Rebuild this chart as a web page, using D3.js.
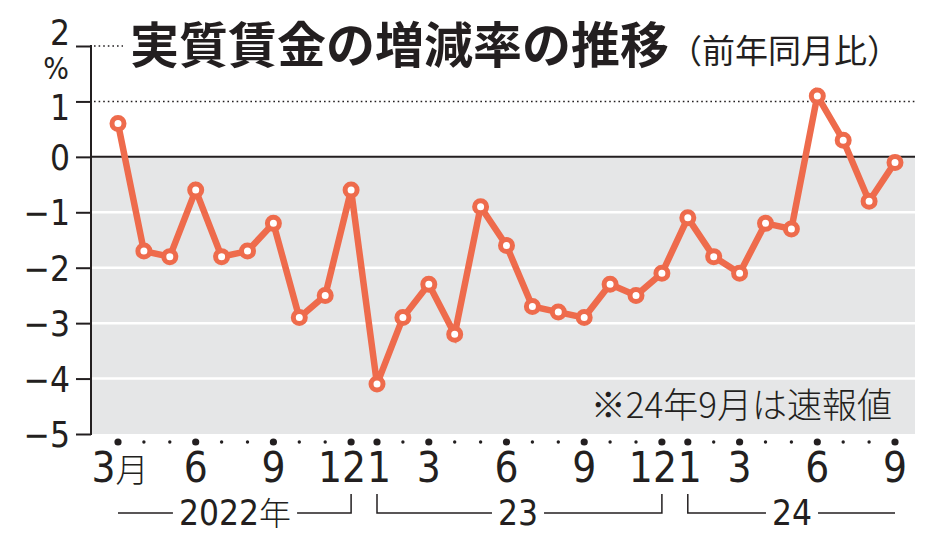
<!DOCTYPE html>
<html><head><meta charset="utf-8">
<script src="https://cdn.jsdelivr.net/npm/d3@7"></script>
<style>
html,body{margin:0;padding:0;background:#fff;}
svg{display:block;}
text{font-family:"Noto Sans CJK JP","Noto Sans",sans-serif;fill:#231f20;}
</style></head>
<body><svg id="c" width="934" height="550"></svg>
<script>
// --- data ---
const years = [2022, 2023, 2024];
const months = [3,4,5,6,7,8,9,10,11,12, 1,2,3,4,5,6,7,8,9,10,11,12, 1,2,3,4,5,6,7,8,9];
const monthYear = [2022,2022,2022,2022,2022,2022,2022,2022,2022,2022,
  2023,2023,2023,2023,2023,2023,2023,2023,2023,2023,2023,2023,
  2024,2024,2024,2024,2024,2024,2024,2024,2024];
const values = [0.6,-1.7,-1.8,-0.6,-1.8,-1.7,-1.2,-2.9,-2.5,-0.6,
  -4.1,-2.9,-2.3,-3.2,-0.9,-1.6,-2.7,-2.8,-2.9,-2.3,-2.5,-2.1,
  -1.1,-1.8,-2.1,-1.2,-1.3,1.1,0.3,-0.8,-0.1];
const yTicks = [2,1,0,-1,-2,-3,-4,-5];
const labeledMonths = [3,6,9,12,1];
const yearLabels = ["2022","23","24"];
const title = "実質賃金の増減率の推移";
const subtitle = "（前年同月比）";
const note = "※24年9月は速報値";

const numFont = "'Liberation Sans Narrow','DejaVu Sans Condensed',sans-serif";
const svg = d3.select("#c");
const left = 91, right = 915;
const y = d3.scaleLinear().domain([-5, 2]).range([434, 46]);
const x = d3.scaleLinear().domain([0, values.length - 1]).range([118, 895]);
const coral = "#ee6b4c";

// gray band
svg.append("rect").attr("x", left).attr("y", y(0)).attr("width", right - left)
  .attr("height", y(-5) - y(0)).attr("fill", "#e5e6e7");
// white gridlines
[-1,-2,-3,-4].forEach(v => {
  svg.append("line").attr("x1", left).attr("x2", right).attr("y1", y(v)).attr("y2", y(v))
    .attr("stroke", "#fff").attr("stroke-width", 2.5);
});
// dotted lines
svg.append("line").attr("x1", left + 3).attr("x2", right).attr("y1", y(1)).attr("y2", y(1))
  .attr("stroke", "#231f20").attr("stroke-width", 1.6).attr("stroke-dasharray", "1.6,3");
svg.append("line").attr("x1", left + 3).attr("x2", 123).attr("y1", y(2)).attr("y2", y(2))
  .attr("stroke", "#231f20").attr("stroke-width", 1.6).attr("stroke-dasharray", "1.6,3");
// zero line
svg.append("line").attr("x1", left).attr("x2", right).attr("y1", y(0)).attr("y2", y(0))
  .attr("stroke", "#231f20").attr("stroke-width", 2);

// y axis
const yAxis = d3.axisLeft(y).tickValues(yTicks).tickSize(15).tickPadding(6)
  .tickFormat(d => d < 0 ? "−" + Math.abs(d) : String(d));
const ga = svg.append("g").attr("transform", `translate(${left},0)`).call(yAxis);
ga.select(".domain").remove();
ga.selectAll(".tick line").attr("stroke", "#231f20").attr("stroke-width", 2);
ga.selectAll(".tick text").attr("font-size", 35).attr("font-weight", 300)
  .attr("fill", "#231f20").attr("x", -21).attr("dy", "0.36em")
  .style("font-family", numFont);
ga.selectAll(".tick text").filter(d => d === 2).attr("dy", "-0.05em");
ga.selectAll(".tick text").filter(d => d === 1).attr("dy", "0.52em");
svg.append("line").attr("x1", left).attr("x2", left).attr("y1", y(2) - 1).attr("y2", y(-5) + 1)
  .attr("stroke", "#231f20").attr("stroke-width", 2);
svg.append("text").attr("x", 56).attr("y", 79).attr("text-anchor", "middle")
  .attr("font-size", 30).attr("font-weight", 300)
  .style("font-family", numFont).text("%");

// x dots
svg.append("g").selectAll("circle").data(months).join("circle")
  .attr("cx", (d, i) => x(i)).attr("cy", 442)
  .attr("r", d => labeledMonths.includes(d) ? 3.6 : 1.7).attr("fill", "#231f20");
// month labels
svg.append("g").selectAll("text").data(months.map((m, i) => ({m, i})).filter(d => labeledMonths.includes(d.m)))
  .join("text")
  .attr("x", d => x(d.i) + (d.m === 12 ? -9 : d.m === 1 ? 2 : d.i === 0 ? 2 : 0)).attr("y", 482)
  .attr("text-anchor", "middle").attr("font-size", 42).attr("font-weight", 300)
  .style("font-family", numFont)
  .each(function(d) {
    const t = d3.select(this);
    t.append("tspan").text(d.m);
    if (d.i === 0) t.append("tspan").style("font-family", "'Noto Sans CJK JP'").attr("font-size", 33).text("月");
  });

// year brackets
years.forEach((yr, k) => {
  const idx = monthYear.map((v, i) => v === yr ? i : -1).filter(i => i >= 0);
  const x0 = x(idx[0]), x1 = x(idx[idx.length - 1]);
  const yl = 513, yt = 494;
  const cx = k === 0 ? 235 : (k === 1 ? 518 : 792);
  const t = svg.append("text").attr("x", cx).attr("y", 525).attr("text-anchor", "middle")
    .attr("font-size", 35).attr("font-weight", 300)
    .style("font-family", numFont);
  t.append("tspan").text(yearLabels[k]);
  if (k === 0) t.append("tspan").style("font-family", "'Noto Sans CJK JP'").attr("font-size", 32).text("年");
  const bb = t.node().getBBox();
  const g0 = bb.x - 6, g1 = bb.x + bb.width + 6;
  const p = d3.path();
  if (k === 0) { p.moveTo(x0, yl); } else { p.moveTo(x0, yt); p.lineTo(x0, yl); }
  p.lineTo(g0, yl);
  p.moveTo(g1, yl);
  if (k === 2) { p.lineTo(x1, yl); } else { p.lineTo(x1, yl); p.lineTo(x1, yt); }
  svg.append("path").attr("d", p.toString()).attr("fill", "none")
    .attr("stroke", "#231f20").attr("stroke-width", 1.5);
});

// series line
const line = d3.line().x((d, i) => x(i)).y(d => y(d));
svg.append("path").datum(values).attr("d", line).attr("fill", "none")
  .attr("stroke", coral).attr("stroke-width", 6.5).attr("stroke-linejoin", "miter");
svg.append("g").selectAll("circle").data(values).join("circle")
  .attr("cx", (d, i) => x(i)).attr("cy", d => y(d)).attr("r", 6)
  .attr("fill", "#fff").attr("stroke", coral).attr("stroke-width", 5);

// title
svg.append("text").attr("x", 130).attr("y", 63).attr("font-size", 49).attr("font-weight", 700)
  .text(title);
svg.append("text").attr("x", 669).attr("y", 63).attr("font-size", 33).attr("font-weight", 400)
  .text(subtitle);
// note
svg.append("text").attr("x", 892).attr("y", 418).attr("text-anchor", "end")
  .attr("font-size", 35).attr("font-weight", 300).text(note);
</script></body></html>
